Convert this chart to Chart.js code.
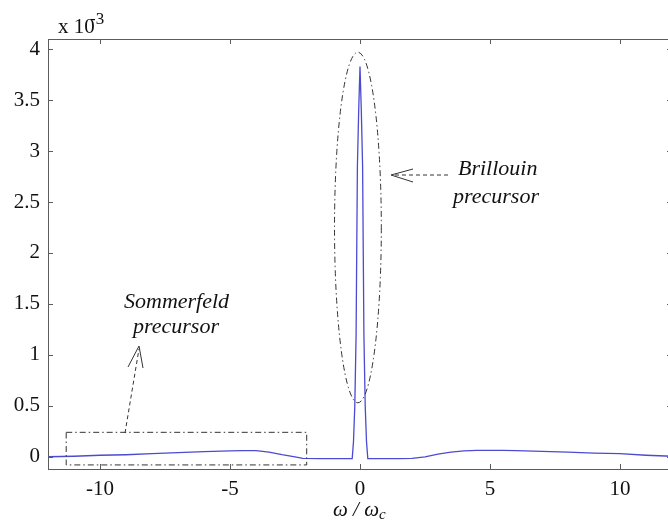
<!DOCTYPE html>
<html>
<head>
<meta charset="utf-8">
<script src="https://cdn.jsdelivr.net/npm/chart.js@4.4.1/dist/chart.umd.min.js"></script>
<style>
    html, body { margin: 0; padding: 0; background: #fff; overflow: hidden; }
    #spectrum { display: block; }
</style>
</head>
<body>
<canvas id="spectrum" width="680" height="525"></canvas>
<script>
// Normalised frequency (omega / omega_c)
const omega = [-12, -11, -10, -9, -8, -7, -6, -5, -4.5, -4, -3.5, -3, -2.5, -2.2, -1.5, -1, -0.5,
    -0.3, -0.25, -0.2, -0.15, -0.1, -0.05, 0, 0.05, 0.1, 0.15, 0.2, 0.25, 0.3,
    0.5, 1, 1.5, 2, 2.5, 3, 3.5, 4, 4.5, 5, 5.5, 6, 7, 8, 9, 10, 11, 12];

// Spectral amplitude, in units of 1e-3
const amplitude = [0.0, 0.005, 0.015, 0.02, 0.03, 0.04, 0.05, 0.058, 0.06, 0.06, 0.045, 0.02, 0.0, -0.015, -0.018, -0.018, -0.018,
    -0.018, 0.15, 0.5, 1.2, 2.85, 3.4, 3.83, 3.4, 2.85, 1.2, 0.5, 0.15, -0.018,
    -0.018, -0.018, -0.018, -0.015, 0.0, 0.025, 0.045, 0.058, 0.062, 0.062, 0.062, 0.06, 0.053, 0.045, 0.035, 0.03, 0.015, 0.005];

const xTicks = [-10, -5, 0, 5, 10];
const yTicks = [0, 0.5, 1, 1.5, 2, 2.5, 3, 3.5, 4];

const serif = '"Liberation Serif", "DejaVu Serif", serif';
const frameColor = '#5c5c5c';

// MATLAB-style box with inward ticks on every side
const framePlugin = {
    id: 'frame',
    afterDraw(chart) {
        const { ctx, chartArea: a, scales } = chart;
        const len = 5;
        ctx.save();
        ctx.strokeStyle = frameColor;
        ctx.lineWidth = 1;
        ctx.strokeRect(a.left + 0.5, a.top + 0.5, a.right - a.left, a.bottom - a.top);
        ctx.beginPath();
        xTicks.forEach(v => {
            const x = Math.round(scales.x.getPixelForValue(v)) + 0.5;
            ctx.moveTo(x, a.bottom); ctx.lineTo(x, a.bottom - len);
            ctx.moveTo(x, a.top); ctx.lineTo(x, a.top + len);
        });
        yTicks.forEach(v => {
            const y = Math.round(scales.y.getPixelForValue(v)) + 0.5;
            ctx.moveTo(a.left, y); ctx.lineTo(a.left + len, y);
            ctx.moveTo(a.right, y); ctx.lineTo(a.right - len, y);
        });
        ctx.stroke();

        // exponent label and x axis title
        ctx.fillStyle = '#111';
        ctx.textBaseline = 'alphabetic';
        ctx.textAlign = 'left';
        ctx.font = '21px ' + serif;
        ctx.fillText('x 10', 58, 33);
        ctx.font = '17px ' + serif;
        ctx.fillText('-3', 90, 24);

        ctx.font = 'italic 21px ' + serif;
        const cx = scales.x.getPixelForValue(0);
        const main = '\u03c9 / \u03c9';
        const w = ctx.measureText(main).width;
        const x0 = cx - (w + 8) / 2;
        ctx.fillText(main, x0, 516);
        ctx.font = 'italic 15px ' + serif;
        ctx.fillText('c', x0 + w, 519);
        ctx.restore();
    }
};

// Dash-dot outlines, arrows and labels marking the two precursors
const notesPlugin = {
    id: 'notes',
    afterDatasetsDraw(chart) {
        const { ctx, scales } = chart;
        const px = v => scales.x.getPixelForValue(v);
        const py = v => scales.y.getPixelForValue(v);
        ctx.save();
        ctx.strokeStyle = '#333';
        ctx.lineWidth = 1;

        // dash-dot ellipse round the Brillouin peak
        ctx.setLineDash([6, 3, 1.5, 3]);
        ctx.beginPath();
        const ex = px(-0.08), ey = py(2.25);
        ctx.ellipse(ex, ey, px(0.9) - px(0), py(0) - py(1.72), 0, 0, Math.PI * 2);
        ctx.stroke();

        // dash-dot box over the Sommerfeld tail
        ctx.beginPath();
        ctx.rect(px(-11.3), py(0.24), px(-2.05) - px(-11.3), py(-0.08) - py(0.24));
        ctx.stroke();

        // dashed leaders
        ctx.setLineDash([4, 3]);
        ctx.beginPath();
        ctx.moveTo(448, 175); ctx.lineTo(393, 175);
        ctx.moveTo(125, 433); ctx.lineTo(139, 349);
        ctx.stroke();

        // open arrow heads
        ctx.setLineDash([]);
        ctx.beginPath();
        ctx.moveTo(413, 169); ctx.lineTo(391, 175); ctx.lineTo(413, 182);
        ctx.moveTo(128, 367); ctx.lineTo(139, 346); ctx.lineTo(143, 368);
        ctx.stroke();

        ctx.fillStyle = '#111';
        ctx.font = 'italic 22px ' + serif;
        ctx.textAlign = 'left';
        ctx.fillText('Brillouin', 458, 175);
        ctx.fillText('precursor', 453, 203);
        ctx.fillText('Sommerfeld', 124, 308);
        ctx.fillText('precursor', 133, 333);
        ctx.restore();
    }
};

const points = omega.map((w, i) => ({ x: w, y: amplitude[i] }));

new Chart(document.getElementById('spectrum'), {
    type: 'scatter',
    data: {
        datasets: [{
            data: points,
            showLine: true,
            borderColor: '#4b4bd2',
            borderWidth: 1.3,
            pointRadius: 0,
            tension: 0
        }]
    },
    options: {
        responsive: false,
        animation: false,
        layout: { padding: { left: 0, top: 39, right: 8, bottom: 0 } },
        plugins: {
            legend: { display: false },
            tooltip: { enabled: false }
        },
        scales: {
            x: {
                type: 'linear',
                min: -12,
                max: 12,
                afterFit: s => { s.height = 56; },
                afterBuildTicks: s => { s.ticks = xTicks.map(v => ({ value: v })); },
                grid: { display: false, drawTicks: false },
                border: { display: false },
                ticks: {
                    color: '#111',
                    padding: 8,
                    font: { family: serif, size: 21 },
                    callback: v => String(v)
                }
            },
            y: {
                type: 'linear',
                min: -0.12,
                max: 4.1,
                afterFit: s => { s.width = 48; },
                afterBuildTicks: s => { s.ticks = yTicks.map(v => ({ value: v })); },
                grid: { display: false, drawTicks: false },
                border: { display: false },
                ticks: {
                    color: '#111',
                    padding: 8,
                    font: { family: serif, size: 21 },
                    callback: v => String(v)
                }
            }
        }
    },
    plugins: [framePlugin, notesPlugin]
});
</script>
</body>
</html>
